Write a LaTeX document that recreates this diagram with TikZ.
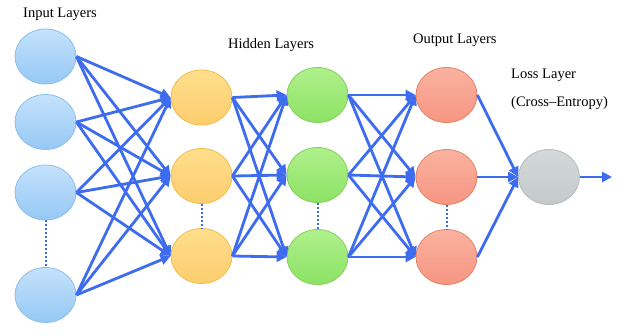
\documentclass[tikz,border=0pt]{standalone}
\usepackage{fontspec}
\setmainfont{Liberation Serif}
\usetikzlibrary{arrows.meta,shapes.geometric}
\definecolor{edgeblue}{RGB}{62,108,238}
\definecolor{inA}{RGB}{196,226,252}
\definecolor{inB}{RGB}{150,200,245}
\definecolor{inD}{RGB}{140,190,235}
\definecolor{hoA}{RGB}{255,222,140}
\definecolor{hoB}{RGB}{252,205,110}
\definecolor{hoD}{RGB}{240,190,70}
\definecolor{hgA}{RGB}{176,240,140}
\definecolor{hgB}{RGB}{140,226,100}
\definecolor{hgD}{RGB}{130,210,90}
\definecolor{orA}{RGB}{250,178,160}
\definecolor{orB}{RGB}{246,150,130}
\definecolor{orD}{RGB}{228,130,100}
\definecolor{lsA}{RGB}{212,216,216}
\definecolor{lsB}{RGB}{196,202,202}
\definecolor{lsD}{RGB}{180,188,188}
\begin{document}
\begin{tikzpicture}[x=1pt,y=-1pt,
  neuron/.style={ellipse, minimum width=61pt, minimum height=55pt, inner sep=0pt, line width=0.8pt},
  inneuron/.style={neuron, draw=inD, top color=inA, bottom color=inB},
  oneuron/.style={neuron, draw=hoD, top color=hoA, bottom color=hoB},
  gneuron/.style={neuron, draw=hgD, top color=hgA, bottom color=hgB},
  rneuron/.style={neuron, draw=orD, top color=orA, bottom color=orB},
  lneuron/.style={neuron, draw=lsD, top color=lsA, bottom color=lsB},
  conn/.style={draw=edgeblue, line width=2.8pt, -{Triangle[length=10pt,width=10pt]}},
  dotline/.style={draw=edgeblue, line width=2pt, dash pattern=on 2pt off 2pt},
  lbl/.style={font=\fontsize{14.5}{17}\selectfont, inner sep=0pt}
]
\useasboundingbox (0,0) rectangle (640,335);
\fill[white] (0,0) rectangle (640,335);
% input layer
\node[inneuron] (i1) at (45.5,56.5) {};
\node[inneuron] (i2) at (45.5,122) {};
\node[inneuron] (i3) at (45.5,192.5) {};
\node[inneuron] (i4) at (45.5,295) {};
% hidden 1
\node[oneuron] (a1) at (201.5,97.5) {};
\node[oneuron] (a2) at (201.5,176) {};
\node[oneuron] (a3) at (201.5,256) {};
% hidden 2
\node[gneuron] (b1) at (317.5,95) {};
\node[gneuron] (b2) at (317.5,175) {};
\node[gneuron] (b3) at (317.5,257) {};
% output
\node[rneuron] (c1) at (446.5,95) {};
\node[rneuron] (c2) at (446.5,177) {};
\node[rneuron] (c3) at (446.5,257) {};
% loss
\node[lneuron] (l) at (549,177) {};
\coordinate (out) at (612,177);
% dotted
\draw[dotline] (i3.south) -- (i4.north);
\draw[dotline] (a2.south) -- (a3.north);
\draw[dotline] (b2.south) -- (b3.north);
\draw[dotline] (c2.south) -- (c3.north);
% connections
\foreach \s in {i1,i2,i3,i4}{\foreach \t in {a1,a2,a3}{\draw[conn] (\s.east) -- (\t.west);}}
\foreach \s in {a1,a2,a3}{\foreach \t in {b1,b2,b3}{\draw[conn] (\s.east) -- (\t.west);}}
\foreach \s in {b1,b2,b3}{\foreach \t in {c1,c2,c3}{\draw[conn] (\s.east) -- (\t.west);}}
\foreach \s in {c1,c2,c3}{\draw[conn] (\s.east) -- (l.west);}
\draw[conn] (l.east) -- (out);
% labels
\node[lbl, anchor=west] (tin) at (23,14) {Input Layers};
\node[lbl, anchor=west] (thid) at (228,45) {Hidden Layers};
\node[lbl, anchor=west] (tout) at (413,40) {Output Layers};
\node[lbl, anchor=west] (tloss) at (511,75) {Loss Layer};
\node[lbl, anchor=west] (tce) at (511,103) {(Cross--Entropy)};
\end{tikzpicture}
\end{document}
